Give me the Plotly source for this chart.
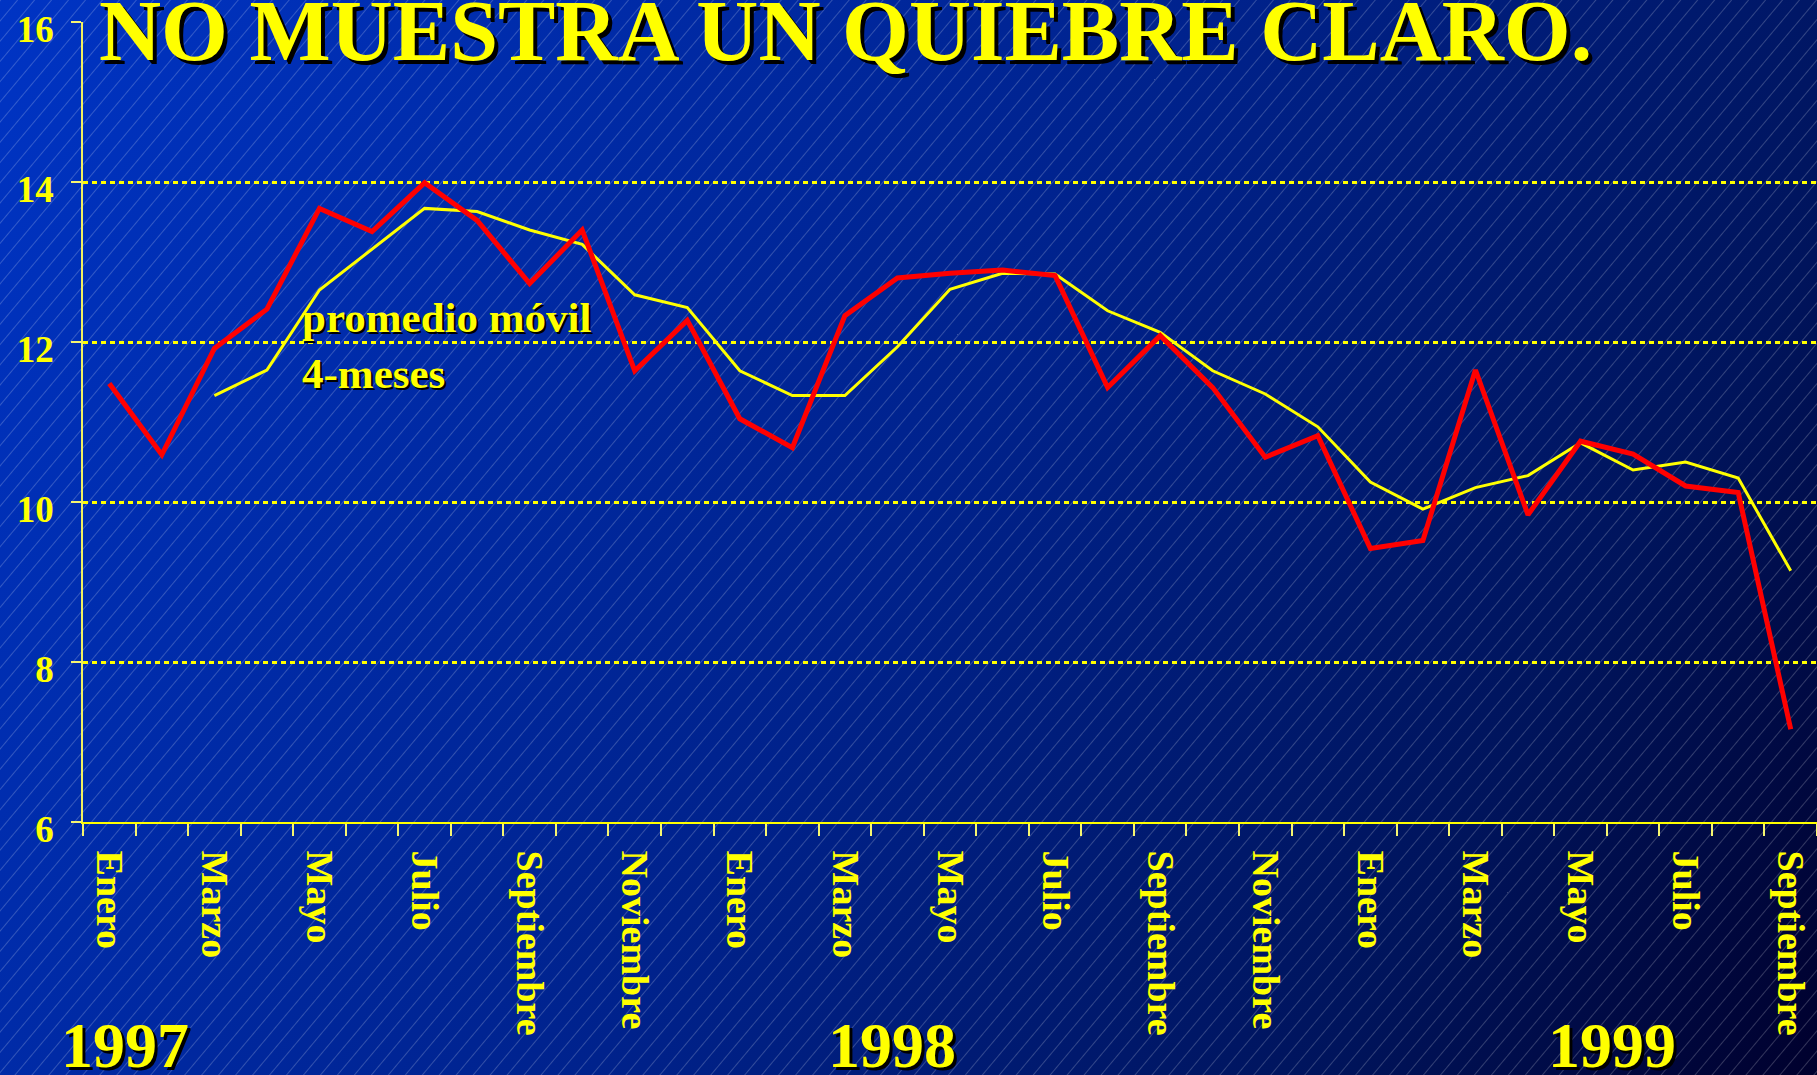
import base64
import plotly.graph_objects as go

# ---------------- data ----------------
months = ["Enero", "Febrero", "Marzo", "Abril", "Mayo", "Junio", "Julio", "Agosto",
          "Septiembre", "Octubre", "Noviembre", "Diciembre"]
periods = [months[i % 12] for i in range(33)]          # Ene-1997 ... Sep-1999
years = ["1997", "1998", "1999"]

serie = [11.48, 10.59, 11.92, 12.41, 13.67, 13.38, 13.99, 13.52, 12.73, 13.40, 11.64, 12.27,
         11.04, 10.68, 12.33, 12.80, 12.86, 12.90, 12.83, 11.43, 12.08, 11.43, 10.56, 10.83,
         9.42, 9.52, 11.65, 9.84, 10.76, 10.60, 10.20, 10.12, 7.16]

promedio = [None, None, 11.33, 11.65, 12.65, 13.16, 13.67, 13.63, 13.40, 13.22, 12.59, 12.43,
            11.64, 11.33, 11.33, 11.94, 12.66, 12.86, 12.85, 12.39, 12.12, 11.64, 11.35, 10.94,
            10.25, 9.91, 10.18, 10.33, 10.74, 10.40, 10.50, 10.30, 9.14]

y_ticks = [6, 8, 10, 12, 14, 16]

title_text = "NO MUESTRA UN QUIEBRE CLARO."
note_text = "promedio móvil<br>4-meses"

# ---------------- layout constants ----------------
W, H = 1817, 1075
ML, MR, MT, MB = 83, 0, 22, 253
PW, PH = W - ML - MR, H - MT - MB

YELLOW = "#ffff00"
SERIF = "Liberation Serif, Times New Roman, serif"

x_idx = list(range(len(periods)))

# background (gradient + diagonal hatch)
svg = f'''<svg xmlns="http://www.w3.org/2000/svg" width="{W}" height="{H}" viewBox="0 0 {W} {H}" preserveAspectRatio="none">
<defs>
<linearGradient id="g" x1="0" y1="0" x2="{W}" y2="{H}" gradientUnits="userSpaceOnUse">
<stop offset="0" stop-color="rgb(0,52,196)"/>
<stop offset="0.5" stop-color="rgb(0,34,140)"/>
<stop offset="0.8" stop-color="rgb(0,20,92)"/>
<stop offset="1" stop-color="rgb(0,0,45)"/>
</linearGradient>
<pattern id="p" width="13" height="13" patternUnits="userSpaceOnUse" patternTransform="rotate(40)">
<line x1="0.5" y1="0" x2="0.5" y2="13" stroke="#ffffff" stroke-opacity="0.2" stroke-width="1"/>
</pattern>
</defs>
<rect width="{W}" height="{H}" fill="url(#g)"/>
<rect width="{W}" height="{H}" fill="url(#p)"/>
</svg>'''
bg_src = "data:image/svg+xml;base64," + base64.b64encode(svg.encode()).decode()

fig = go.Figure()

fig.add_trace(go.Scatter(x=x_idx, y=promedio, mode="lines",
                         line=dict(color=YELLOW, width=3), connectgaps=False,
                         hoverinfo="skip", showlegend=False))
fig.add_trace(go.Scatter(x=x_idx, y=serie, mode="lines",
                         line=dict(color="#ff0000", width=5),
                         hoverinfo="skip", showlegend=False))


def px_x(p):
    return (p - ML) / PW


def px_y(p):
    return (H - MB - p) / PH


def shadow_text(text, x, y, size, xref="paper", yref="paper", xanchor="center",
                yanchor="middle", align="center", off=3):
    for col, dx, dy in (("#000000", off, -off), (YELLOW, 0, 0)):
        fig.add_annotation(text=text, x=x, y=y, xref=xref, yref=yref,
                           xanchor=xanchor, yanchor=yanchor, align=align,
                           showarrow=False, xshift=dx, yshift=dy,
                           font=dict(family=SERIF, size=size, color=col, weight="bold"))


# title
shadow_text(title_text, px_x(97), px_y(31), 86, xanchor="left", off=4)
# moving-average note
shadow_text(note_text, px_x(300), px_y(345), 43, xanchor="left", align="left", off=2)
# years
year_pos = [0.3, 14.9, 28.6]
for yr, xp in zip(years, year_pos):
    shadow_text(yr, xp, px_y(1045), 64, xref="x", off=3)

fig.update_xaxes(
    range=[-0.5, len(periods) - 0.5],
    tickmode="array",
    tickvals=x_idx[::2],
    ticktext=periods[::2],
    tickangle=90,
    ticks="outside", ticklen=12, tickcolor="rgba(0,0,0,0)",
    ticklabelstandoff=7,
    tickfont=dict(family=SERIF, size=38, color=YELLOW, weight="bold"),
    showline=True, linecolor=YELLOW, linewidth=2,
    showgrid=False, zeroline=False,
    minor=dict(tickmode="array", tickvals=[i - 0.5 for i in range(len(periods) + 1)],
               ticks="outside", ticklen=12, tickcolor="#f5f570", tickwidth=1.5,
               showgrid=False),
)
fig.update_yaxes(
    range=[5.9999, 16.0001],
    tickmode="array", tickvals=y_ticks,
    ticks="outside", ticklen=10, tickcolor="#f5f570", tickwidth=1.5,
    ticklabelstandoff=10, ticklabelshift=7,
    tickfont=dict(family=SERIF, size=37, color=YELLOW, weight="bold"),
    showline=True, linecolor="#f0f060", linewidth=1.5,
    showgrid=True, gridcolor=YELLOW, gridwidth=2.5, griddash="5px,4px",
    zeroline=False,
)

fig.update_layout(
    width=W, height=H,
    margin=dict(l=ML, r=MR, t=MT, b=MB, pad=0),
    paper_bgcolor="#001a80",
    plot_bgcolor="rgba(0,0,0,0)",
    images=[dict(source=bg_src, xref="paper", yref="paper",
                 x=-ML / PW, y=1 + MT / PH, sizex=W / PW, sizey=H / PH,
                 xanchor="left", yanchor="top", sizing="stretch", layer="below")],
    showlegend=False,
)

fig.write_html("out.html", config={"displayModeBar": False},
               post_script="document.body.style.margin='0';")
